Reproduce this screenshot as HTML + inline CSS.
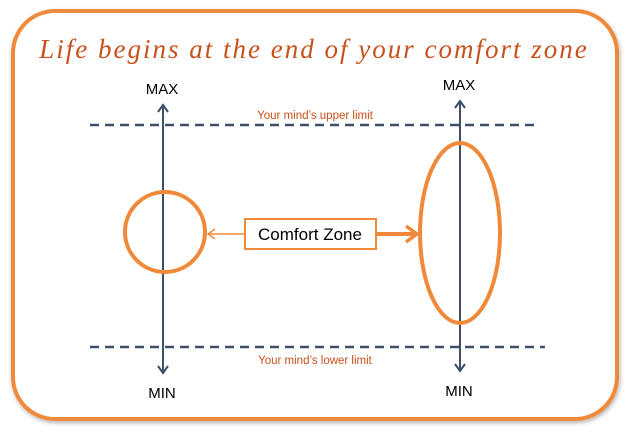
<!DOCTYPE html>
<html><head><style>
body{margin:0;background:#fff;}
</style></head><body>
<svg width="630" height="433" viewBox="0 0 630 433" xmlns="http://www.w3.org/2000/svg">
<defs>
<filter id="sh" x="-5%" y="-5%" width="110%" height="110%"><feDropShadow dx="1" dy="2" stdDeviation="2" flood-color="#000" flood-opacity="0.3"/></filter>
</defs>
<rect x="13" y="11" width="604" height="408" rx="42" fill="#fff" stroke="#f08a3a" stroke-width="4" filter="url(#sh)"/>
<text x="314" y="58" text-anchor="middle" font-family="Liberation Serif, serif" font-style="italic" font-size="27" fill="#c8501a" letter-spacing="2">Life begins at the end of your comfort zone</text>
<g font-family="Liberation Sans, sans-serif" font-size="15" fill="#000" text-anchor="middle">
<text x="162" y="94">MAX</text><text x="459" y="90">MAX</text>
<text x="162" y="398">MIN</text><text x="459" y="396">MIN</text>
</g>
<g font-family="Liberation Sans, sans-serif" font-size="11.5" fill="#c8501a" text-anchor="middle">
<text x="315" y="119">Your mind’s upper limit</text>
<text x="315" y="364">Your mind’s lower limit</text>
</g>
<g stroke="#3d5068" stroke-width="2.5" stroke-dasharray="9,6">
<line x1="90" y1="125" x2="540" y2="125"/>
<line x1="90" y1="347" x2="545" y2="347"/>
</g>
<g stroke="#3d5068" stroke-width="2" fill="none">
<line x1="163" y1="106" x2="163" y2="372"/>
<polyline points="158,112 163,105 168,112"/><polyline points="158,366 163,373 168,366"/>
<line x1="460" y1="102" x2="460" y2="370"/>
<polyline points="455,108 460,101 465,108"/><polyline points="455,364 460,371 465,364"/>
</g>
<g stroke="#f08a3a" fill="none">
<circle cx="165" cy="232" r="40" stroke-width="4"/>
<ellipse cx="460" cy="233" rx="40" ry="90" stroke-width="4"/>
<rect x="245" y="219" width="131" height="30" stroke-width="2" fill="#fff"/>
<line x1="245" y1="234" x2="209" y2="234" stroke-width="1.5"/>
<polyline points="215,229 208,234 215,239" stroke-width="1.5"/>
<line x1="376" y1="234" x2="416" y2="234" stroke-width="4"/>
<polyline points="406,226 417,234 406,242" stroke-width="3.5"/>
</g>
<text x="310" y="240" text-anchor="middle" font-family="Liberation Sans, sans-serif" font-size="17" fill="#000">Comfort Zone</text>
</svg>
</body></html>
